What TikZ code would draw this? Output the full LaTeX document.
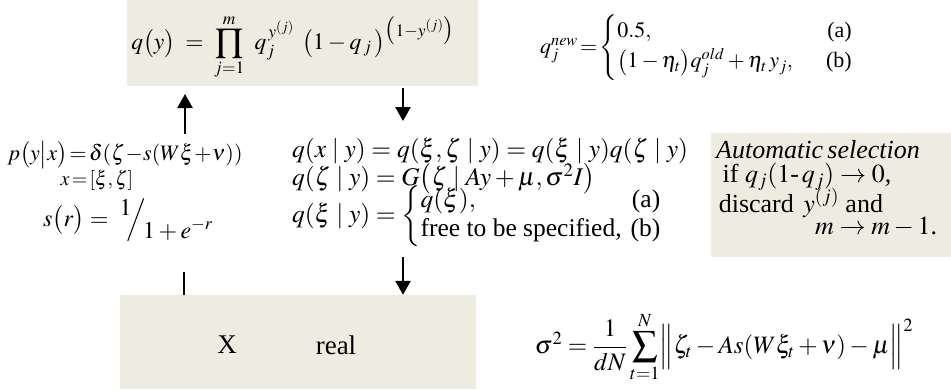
\documentclass[tikz,border=0pt]{standalone}
\usepackage{amsmath}
\usepackage{mathptmx}
\usepackage[no-math]{fontspec}
\setmainfont{Liberation Serif}
\usetikzlibrary{arrows.meta}
\definecolor{boxbg}{HTML}{EEECE1}
\tikzset{
  panel/.style={fill=boxbg, draw=none, inner sep=0pt},
  lbl/.style={inner sep=0pt, anchor=center},
  arr/.style={line width=2.6pt, -{Triangle[length=14pt,width=15pt]}},
  plain/.style={line width=2.6pt},
}
\begin{document}
\begin{tikzpicture}[x=1pt,y=-1pt]
\useasboundingbox (0,0) rectangle (951,391);
% panels
\node[panel, minimum width=351pt, minimum height=86pt] (top) at (302.5,43) {};
\node[panel, minimum width=356pt, minimum height=94pt] (bot) at (298,342) {};
\node[panel, minimum width=240pt, minimum height=124pt] (auto) at (831,195) {};
% top formula
\node[lbl] (qy) at (293,47) {\fontsize{23.5}{28}\selectfont
 $q\bigl(y\bigr)\;=\;\displaystyle\prod_{j=1}^{m}\;\, q_j^{\,y^{(j)}}\;\,\bigl(1-q_{\,j}\,\bigr)^{\bigl(1-y^{(j)}\bigr)}$};
% q new
\node[lbl, anchor=west] (qnew) at (540,48) {\fontsize{22}{28}\selectfont
 $q_j^{new}\!=\!\left\{\begin{array}{@{}l@{}r@{}}0.5, & \text{(a)}\\[2pt] \bigl(1-\eta_t\bigr)q_j^{old}+\eta_t\,y_j, & \hspace{1.5em}\text{(b)}\end{array}\right.$};
% left formulas
\node[lbl] (pyx) at (125,155) {\fontsize{22}{26}\selectfont
 $p\bigl(y\bigr|x\bigr)\!=\!\delta(\zeta\!-\!s(W\xi\!+\!\nu))$};
\node[lbl] (xdef) at (97,180) {\fontsize{20}{24}\selectfont $x\!=\![\xi,\zeta]$};
\node[lbl] (sr) at (128,220) {\fontsize{24}{28}\selectfont
 $s\bigl(r\bigr)=\ \raisebox{0.45em}{$1$}\!\!\Big/\!\raisebox{-0.5em}{$1+e^{-r}$}$};
% middle formulas
\node[lbl, anchor=west] (qxy) at (292,151) {\fontsize{25.5}{28}\selectfont
 $q(x\mid y)=q(\xi,\zeta\mid y)=q(\xi\mid y)q(\zeta\mid y)$};
\node[lbl, anchor=west] (qzy) at (292,179) {\fontsize{25.5}{28}\selectfont
 $q(\zeta\mid y)=G\bigl(\zeta\mid Ay+\mu,\sigma^2I\bigr)$};
\node[lbl, anchor=west] (qxiy) at (292,216) {\fontsize{25.5}{28}\selectfont
 $q(\xi\mid y)=\left\{\begin{array}{@{}l@{\hspace{0.35em}}r@{}}q(\xi), & \text{(a)}\\[1pt] \text{free to be specified,} & \text{(b)}\end{array}\right.$};
% automatic selection
\node[lbl, anchor=north west, align=left, font=\fontsize{26}{25}\selectfont] (autotxt) at (716,140) {%
 \textit{Automatic\,selection}\\[-1pt]
 \hspace*{0.25em}if $q_j(1\text{-}\,q_j)\rightarrow0$,\\[-3pt]
 \hspace*{0.1em}discard $\,y^{(j)}$ and\\[-3pt]
 \hspace*{3.8em}$m\rightarrow m-1$.};
% bottom box text
\node[lbl] (xlab) at (227,345) {\fontsize{27}{32}\selectfont X};
\node[lbl] (real) at (336,345) {\fontsize{27}{32}\selectfont real};
% sigma formula
\node[lbl] (sig) at (724,347) {\fontsize{25}{30}\selectfont
 $\sigma^2=\dfrac{1}{dN}\displaystyle\sum_{t=1}^{N}\Bigl\|\zeta_t-As(W\xi_t+\nu)-\mu\Bigr\|^2$};
% connectors
\coordinate (upS) at (185,134);
\coordinate (upE) at (185,94);
\coordinate (dnS) at (403,88);
\coordinate (dnE) at (403,121);
\coordinate (tkS) at (184,272);
\coordinate (d2S) at (403,257);
\draw[arr] (upS) -- (upE);
\draw[arr] (dnS) -- (dnE);
\draw[plain] (tkS) -- (tkS |- bot.north);
\draw[arr] (d2S) -- (d2S |- bot.north);
\end{tikzpicture}
\end{document}
